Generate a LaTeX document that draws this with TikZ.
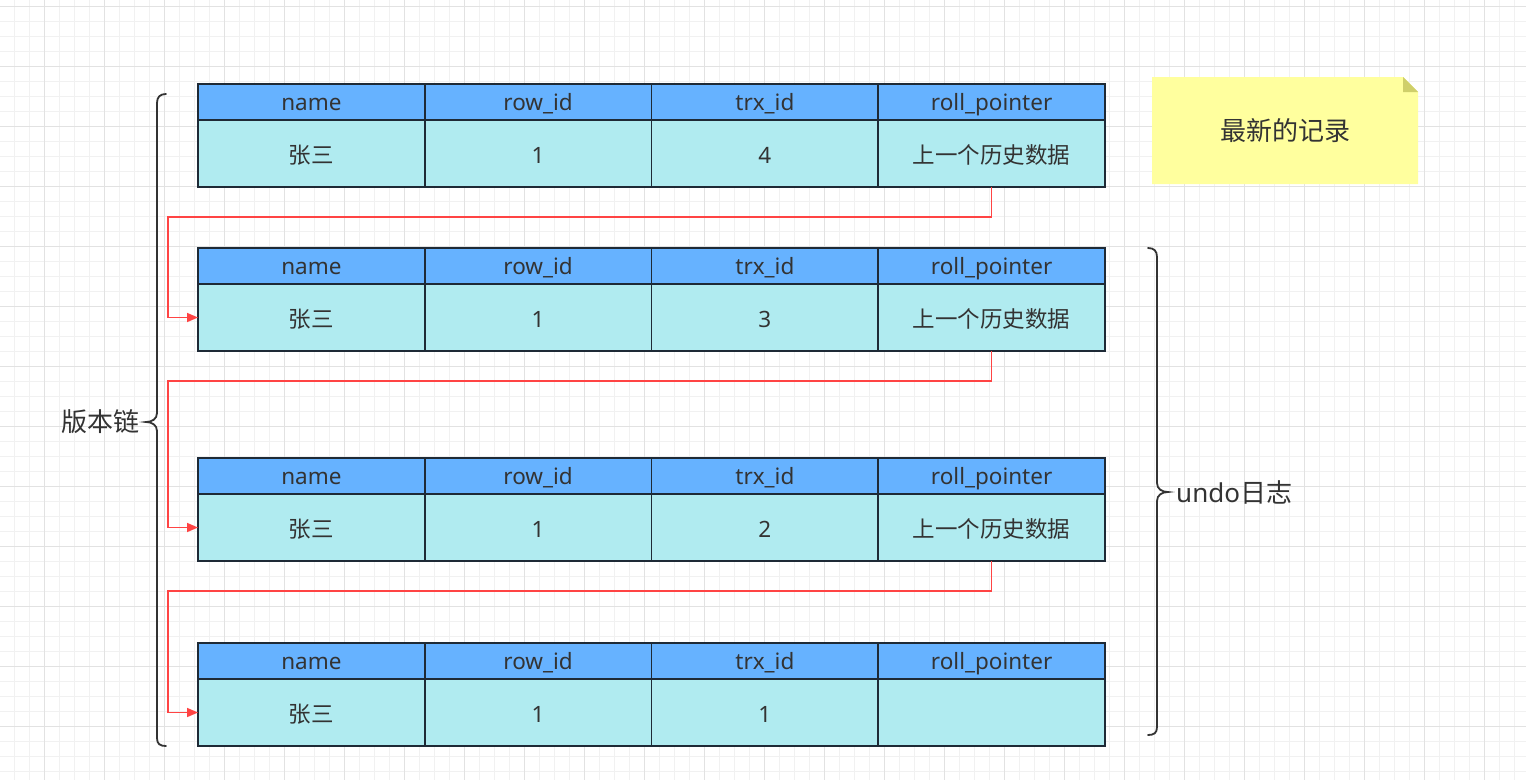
\documentclass[tikz,border=0pt]{standalone}
\usepackage{fontspec}
\setmainfont{Noto Sans}
\newfontfamily\cjk{Noto Sans CJK SC}
\usetikzlibrary{arrows.meta,calc}

\definecolor{hdblue}{HTML}{66B2FF}
\definecolor{rowcyan}{HTML}{B0EBF0}
\definecolor{cellline}{HTML}{1E2A36}
\definecolor{txt}{HTML}{333333}
\definecolor{linkred}{HTML}{FF4444}
\definecolor{notefill}{HTML}{FFFF9E}
\definecolor{notefold}{HTML}{CFCF6A}
\definecolor{gridminor}{HTML}{F1F1F1}
\definecolor{gridmajor}{HTML}{E2E2E2}

\tikzset{
  cell/.style={draw=cellline, line width=1.9pt, inner sep=0pt, outer sep=0pt,
    minimum width=226.75pt, text=txt, font=\fontsize{22.5}{26}\selectfont,
    anchor=north west},
  hdcell/.style={cell, fill=hdblue, minimum height=36pt,
    text height=19pt, text depth=3pt},
  datacell/.style={cell, fill=rowcyan, minimum height=67pt,
    text height=22pt, text depth=2pt},
  link/.style={draw=linkred, line width=1.6pt,
    -{Triangle[length=11pt,width=9pt]}},
  brace/.style={draw=txt, line width=1.8pt, line cap=round},
  lbl/.style={text=txt, inner sep=0pt, font=\fontsize{26}{30}\selectfont},
}

% one record: header row and data row, four columns
\newcommand\recordtable[6]{%
  \node[hdcell] (#1h1) at (198,#2) {name};
  \node[hdcell] (#1h2) at (#1h1.north east) {row\_id};
  \node[hdcell] (#1h3) at (#1h2.north east) {trx\_id};
  \node[hdcell] (#1h4) at (#1h3.north east) {roll\_pointer};
  \node[datacell] (#1d1) at (#1h1.south west) {#3};
  \node[datacell] (#1d2) at (#1h2.south west) {#4};
  \node[datacell] (#1d3) at (#1h3.south west) {#5};
  \node[datacell] (#1d4) at (#1h4.south west) {#6};
}

\begin{document}
\begin{tikzpicture}[x=1pt,y=-1pt]
  \useasboundingbox (0,0) rectangle (1526,780);
  \fill[white] (0,0) rectangle (1526,780);

  % background grid
  \foreach \i in {0,...,101}
    \draw[gridminor, line width=1pt] ({14.3+15*\i},0) -- ({14.3+15*\i},780);
  \foreach \i in {0,...,51}
    \draw[gridminor, line width=1pt] (0,{6+15*\i}) -- (1526,{6+15*\i});
  \foreach \i in {0,...,24}
    \draw[gridmajor, line width=1pt] ({44.3+60*\i},0) -- ({44.3+60*\i},780);
  \foreach \i in {0,...,12}
    \draw[gridmajor, line width=1pt] (0,{6+60*\i}) -- (1526,{6+60*\i});

  % version chain records
  \recordtable{ra}{84}{\cjk 张三}{1}{4}{\cjk 上一个历史数据}
  \recordtable{rb}{248}{\cjk 张三}{1}{3}{\cjk 上一个历史数据}
  \recordtable{rc}{458}{\cjk 张三}{1}{2}{\cjk 上一个历史数据}
  \recordtable{rd}{643}{\cjk 张三}{1}{1}{}

  % roll pointers to the previous version
  \draw[link] (rad4.south) -- ++(0,30) -| ([xshift=-30pt]rbd1.west) -- (rbd1.west);
  \draw[link] (rbd4.south) -- ++(0,30) -| ([xshift=-30pt]rcd1.west) -- (rcd1.west);
  \draw[link] (rcd4.south) -- ++(0,30) -| ([xshift=-30pt]rdd1.west) -- (rdd1.west);

  % newest-record note
  \coordinate (noteNW) at (1152,77);
  \coordinate (noteSE) at (1418,184);
  \fill[notefill] (noteNW) -- (1403,77) -- (1418,92) -- (1418,184) -- (1152,184) -- cycle;
  \fill[notefold] (1403,77) -- (1418,92) -- (1403,92) -- cycle;
  \node[lbl] (note) at ($(noteNW)!0.5!(noteSE)$) {\cjk 最新的记录};

  % left brace: version chain
  \draw[brace] (166,94) .. controls (160,94) and (157,97) .. (157,103)
    -- (157,413) .. controls (157,419) and (152,422) .. (146,422)
    .. controls (152,422) and (157,425) .. (157,431)
    -- (157,738) .. controls (157,744) and (160,746) .. (166,746);
  \node[lbl, anchor=east] (chain) at (140,422) {\cjk 版本链};

  % right brace: undo log
  \draw[brace] (1148,248) .. controls (1154,248) and (1157,251) .. (1157,257)
    -- (1157,483) .. controls (1157,489) and (1162,492) .. (1168,492)
    .. controls (1162,492) and (1157,495) .. (1157,501)
    -- (1157,727) .. controls (1157,733) and (1154,735) .. (1148,735);
  \node[lbl, anchor=west] (undo) at (1176,492) {undo{\cjk 日志}};
\end{tikzpicture}
\end{document}
